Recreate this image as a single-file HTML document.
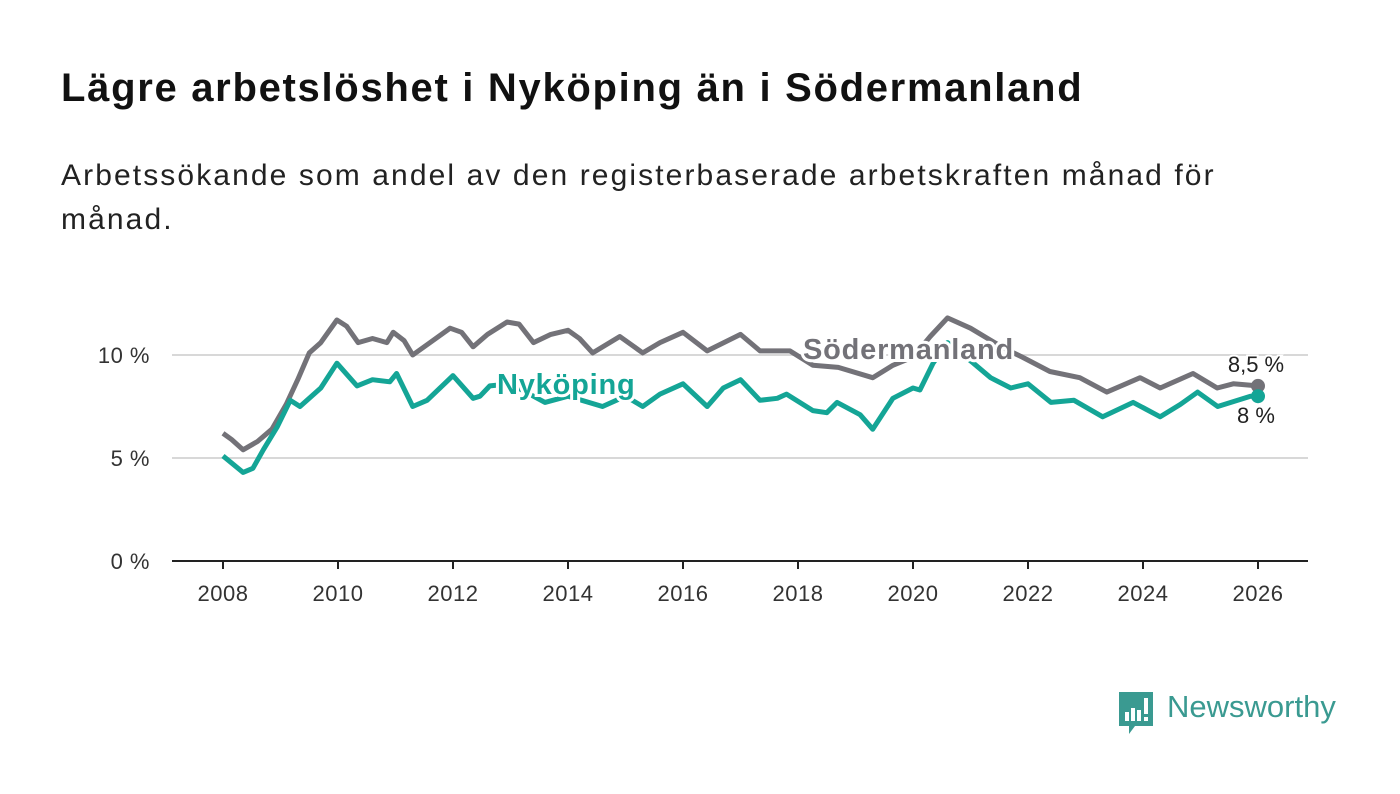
<!DOCTYPE html>
<html><head><meta charset="utf-8"><style>
body{margin:0;background:#fff;width:1400px;height:794px;overflow:hidden;font-family:"Liberation Sans",sans-serif;}
h1{position:absolute;left:61px;top:66px;margin:0;font-size:40px;letter-spacing:1.7px;font-weight:bold;color:#111;white-space:nowrap;}
p.sub{position:absolute;left:61px;top:154px;margin:0;font-size:30px;letter-spacing:2.1px;line-height:44px;color:#222;width:1200px;}
</style></head><body>
<h1>Lägre arbetslöshet i Nyköping än i Södermanland</h1>
<p class="sub">Arbetssökande som andel av den registerbaserade arbetskraften månad för månad.</p>
<svg id="chart" width="1400" height="794" style="position:absolute;left:0;top:0"></svg>
<div style="position:absolute;left:1119px;top:692px;">
<svg width="36" height="44"><path d="M0 0H34V34H16L10 42V34H0Z" fill="#3a9a91"/><rect x="6" y="20" width="4" height="9" fill="#fff"/><rect x="12" y="16" width="4" height="13" fill="#fff"/><rect x="18" y="18" width="4" height="11" fill="#fff"/><rect x="25" y="6" width="4" height="16" fill="#fff"/><rect x="25" y="25" width="4" height="4" fill="#fff"/></svg>
<span style="position:absolute;left:48px;top:-3px;font-size:31px;color:#3a9a91;white-space:nowrap">Newsworthy</span></div>
<script>
const sodX=[2008.0,2008.15,2008.35,2008.6,2008.85,2009.1,2009.3,2009.5,2009.7,2009.98,2010.15,2010.35,2010.6,2010.85,2010.96,2011.15,2011.3,2011.6,2011.95,2012.15,2012.35,2012.6,2012.94,2013.15,2013.4,2013.7,2014.0,2014.2,2014.43,2014.9,2015.3,2015.6,2016.0,2016.42,2017.0,2017.34,2017.86,2018.26,2018.7,2019.3,2019.65,2020.0,2020.3,2020.6,2021.0,2021.3,2021.6,2021.9,2022.38,2022.9,2023.37,2023.95,2024.3,2024.87,2025.29,2025.57,2026.0];
const sodY=[6.2,5.9,5.4,5.8,6.4,7.6,8.8,10.1,10.6,11.7,11.4,10.6,10.8,10.6,11.1,10.7,10.0,10.6,11.3,11.1,10.4,11.0,11.6,11.5,10.6,11.0,11.2,10.8,10.1,10.9,10.1,10.6,11.1,10.2,11.0,10.2,10.2,9.5,9.4,8.9,9.5,9.9,10.9,11.8,11.3,10.8,10.3,9.9,9.2,8.9,8.2,8.9,8.4,9.1,8.4,8.6,8.5];
const nykX=[2008.0,2008.35,2008.52,2008.7,2008.94,2009.17,2009.34,2009.7,2009.98,2010.33,2010.6,2010.9,2011.02,2011.3,2011.55,2012.0,2012.35,2012.47,2012.64,2013.0,2013.6,2014.0,2014.6,2015.0,2015.3,2015.6,2016.0,2016.42,2016.7,2017.0,2017.34,2017.64,2017.8,2018.26,2018.5,2018.68,2019.08,2019.3,2019.65,2020.0,2020.12,2020.35,2020.6,2021.05,2021.35,2021.7,2022.0,2022.4,2022.8,2023.3,2023.83,2024.3,2024.65,2024.95,2025.3,2025.87,2026.0];
const nykY=[5.1,4.3,4.5,5.4,6.5,7.8,7.5,8.4,9.6,8.5,8.8,8.7,9.1,7.5,7.8,9.0,7.9,8.0,8.5,8.6,7.7,8.0,7.5,8.0,7.5,8.1,8.6,7.5,8.4,8.8,7.8,7.9,8.1,7.3,7.2,7.7,7.1,6.4,7.9,8.4,8.3,9.6,10.6,9.6,8.9,8.4,8.6,7.7,7.8,7.0,7.7,7.0,7.6,8.2,7.5,8.0,8.0];
const yTicks=[0,5,10];const xTicks=[2008,2010,2012,2014,2016,2018,2020,2022,2024,2026];
const sx=v=>223+(v-2008)*57.5, sy=v=>561-v*20.6;
const svg=document.getElementById('chart'),NS='http://www.w3.org/2000/svg';
function mk(t,a,p){const e=document.createElementNS(NS,t);for(const k in a)e.setAttribute(k,a[k]);(p||svg).appendChild(e);return e;}
yTicks.forEach(v=>{
 const l=mk('line',{x1:172,x2:1308,y1:sy(v),y2:sy(v),stroke:v==0?'#222':'#d8d8d8','stroke-width':2});
 
 const t=mk('text',{x:150,y:sy(v)+8,'text-anchor':'end','font-size':22,'letter-spacing':0.5,fill:'#333'});t.textContent=v+' %';
 });
xTicks.forEach(v=>{
 const l=mk('line',{x1:sx(v),x2:sx(v),y1:561,y2:569,stroke:'#222','stroke-width':2});
 
 const t=mk('text',{x:sx(v),y:601,'text-anchor':'middle','font-size':22,'letter-spacing':0.5,fill:'#333'});t.textContent=v;
 });
function line(xs,ys,c,n){const d=xs.map((x,i)=>(i?'L':'M')+sx(x).toFixed(1)+' '+sy(ys[i]).toFixed(1)).join('');
 const p=mk('path',{d:d,fill:'none',stroke:c,'stroke-width':5,'stroke-linejoin':'round'});
 
 const e=mk('circle',{cx:sx(xs[xs.length-1]),cy:sy(ys[ys.length-1]),r:7,fill:c});
 }
line(sodX,sodY,'#737278','sodermanland-line');
line(nykX,nykY,'#14a596','nykoping-line');
function lab(x,y,s,c,n,sz,w,anc,ls){const t=mk('text',{x:x,y:y,'font-size':sz,'font-weight':w,'letter-spacing':ls||0,fill:c,stroke:'#fff','stroke-width':w=='bold'?6:4,'paint-order':'stroke','text-anchor':anc||'start'});t.textContent=s;
 }
lab(803,359,'Södermanland','#737278','sodermanland-label',29,'bold','start',0.8);
lab(497,394,'Nyköping','#14a596','nykoping-label',29,'bold','start',0.8);
lab(1256,372,sodY[sodY.length-1].toString().replace('.',',')+' %','#222','sodermanland-end-value',22,'normal','middle');
lab(1256,423,nykY[nykY.length-1].toFixed(0)+' %','#222','nykoping-end-value',22,'normal','middle');
</script>
</body></html>
